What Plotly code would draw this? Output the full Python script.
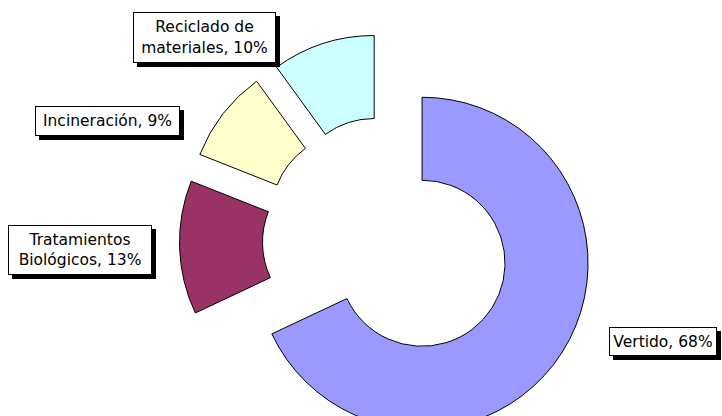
import plotly.graph_objects as go

# ---- data ----
labels = ["Vertido", "Tratamientos Biológicos", "Incineración", "Reciclado de materiales"]
values = [68, 13, 9, 10]
label_text = ["Vertido, 68%", "Tratamientos<br>Biológicos, 13%",
              "Incineración, 9%", "Reciclado de<br>materiales, 10%"]
colors = ["#9999FF", "#993366", "#FFFFCC", "#CCFFFF"]

# ---- layout geometry (pixels) ----
W, H = 722, 460
R = 166          # desired outer radius
PULL = 0.25
CX, CY = 387, 241
half = R * (1 + PULL)

dom_x = [(CX - half) / W, (CX + half) / W]
dom_y = [(H - (CY + half)) / H, (H - (CY - half)) / H]

fig = go.Figure(go.Pie(
    labels=labels, values=values, sort=False, direction="clockwise",
    rotation=0, hole=0.5, pull=[PULL] * len(values),
    marker=dict(colors=colors, line=dict(color="black", width=1)),
    textinfo="none", hoverinfo="label+percent", showlegend=False,
    domain=dict(x=dom_x, y=dom_y),
))

# label boxes: center x, center y, width, height (px)
boxes = [(663, 341.5, 108, 29), (80, 250, 144, 50),
         (107.5, 121, 145, 30), (204.5, 37.5, 143, 51)]
SH = 4  # shadow offset

font = dict(family="DejaVu Sans, Liberation Sans, Arial", size=15.5, color="black")
for txt, (bx, by, bw, bh) in zip(label_text, boxes):
    # drop shadow
    fig.add_shape(type="rect", xref="paper", yref="paper", layer="above",
                  x0=(bx - bw / 2 + SH) / W, x1=(bx + bw / 2 + SH) / W,
                  y0=(H - (by + bh / 2 + SH)) / H, y1=(H - (by - bh / 2 + SH)) / H,
                  fillcolor="black", line=dict(width=0))
    fig.add_annotation(text=txt, x=bx / W, y=(H - by) / H, xref="paper", yref="paper",
                       xanchor="center", yanchor="middle", showarrow=False,
                       width=bw - 2, height=bh - 2, borderpad=0, borderwidth=1,
                       align="center", font=font, bgcolor="white", bordercolor="black")

fig.update_layout(width=W, height=H, margin=dict(l=0, r=0, t=0, b=0),
                  paper_bgcolor="white", plot_bgcolor="white", showlegend=False)

fig.write_html("out.html", config={"displayModeBar": False},
               post_script="document.body.style.margin='0';document.body.style.overflow='hidden';")
